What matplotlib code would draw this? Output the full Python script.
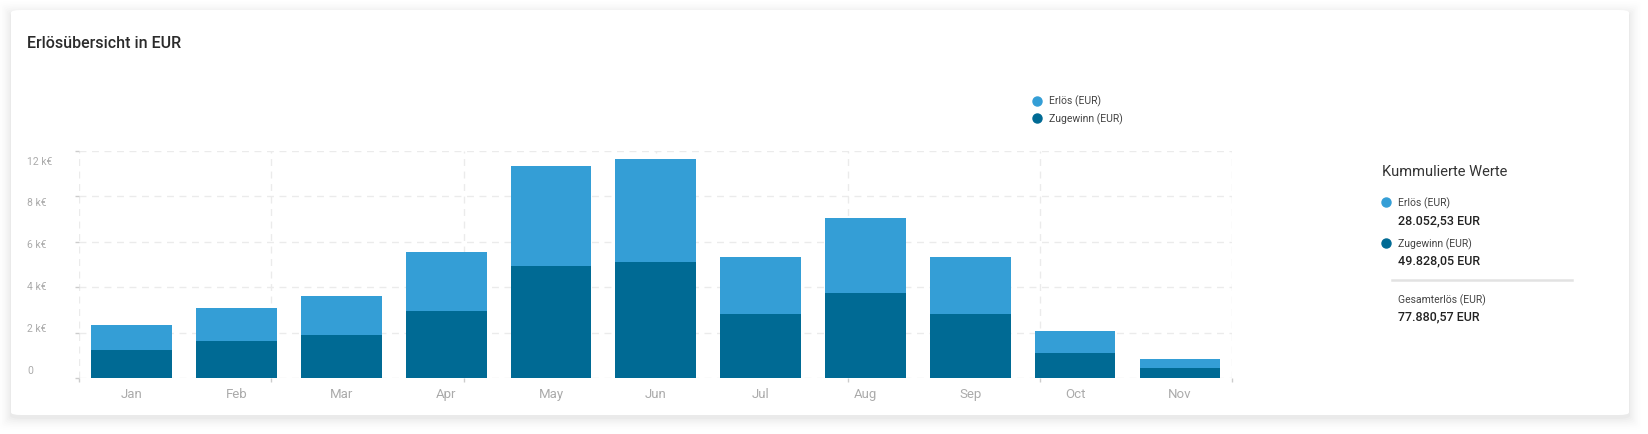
import matplotlib
matplotlib.use("Agg")
import matplotlib.pyplot as plt
from matplotlib.patches import FancyBboxPatch
import numpy as np

plt.rcParams['font.family'] = ['Roboto', 'DejaVu Sans']

# ---- data (k€) ----
months = ["Jan", "Feb", "Mar", "Apr", "May", "Jun", "Jul", "Aug", "Sep", "Oct", "Nov"]
zugewinn = [1.25, 1.64, 1.91, 2.94, 4.93, 5.09, 2.81, 3.73, 2.81, 1.10, 0.45]   # dark, bottom
erloes = [1.10, 1.45, 1.71, 2.62, 4.41, 4.54, 2.51, 3.33, 2.51, 0.98, 0.41]     # light, top
ytick_labels = ["0", "2 k€", "4 k€", "6 k€", "8 k€", "12 k€"]
legend_labels = ["Erlös (EUR)", "Zugewinn (EUR)"]
summary_labels = ["Erlös (EUR)", "Zugewinn (EUR)", "Gesamterlös (EUR)"]
summary_values = ["28.052,53 EUR", "49.828,05 EUR", "77.880,57 EUR"]
title = "Erlösübersicht in EUR"
panel_title = "Kummulierte Werte"

LIGHT = "#349ED6"
DARK = "#006A94"

W, H = 1648, 435
fig = plt.figure(figsize=(W / 100, H / 100), dpi=100)
fig.patch.set_facecolor("white")

def fx(x):
    return x / W

def fy(y):
    return 1 - y / H

# card shadow (soft, slightly offset downward) + card
for i, a in enumerate([0.020, 0.016, 0.013, 0.010, 0.008, 0.006, 0.004, 0.003]):
    g = 1 + i * 1.6
    dy = 3
    fig.patches.append(FancyBboxPatch((fx(11 - g), fy(416 + g + dy)), fx(1618 + 2 * g), (416 - 11 + 2 * g) / H,
                                      boxstyle="round,pad=0,rounding_size=0.008",
                                      transform=fig.transFigure, facecolor="black", edgecolor="none",
                                      alpha=a, zorder=0))
fig.patches.append(FancyBboxPatch((fx(11), fy(416)), fx(1618), (416 - 11) / H,
                                  boxstyle="round,pad=0,rounding_size=0.006",
                                  transform=fig.transFigure, facecolor="white", edgecolor="none", zorder=1))

# axes
left, right, top, bottom = 79.3, 1232.3, 151.7, 379.3
ax = fig.add_axes([fx(left), fy(bottom), fx(right - left), (bottom - top) / H])
ax.set_zorder(2)
ax.patch.set_alpha(0)
x = np.arange(len(months))
ax.bar(x, zugewinn, width=0.77, color=DARK, zorder=3)
ax.bar(x, erloes, width=0.77, bottom=zugewinn, color=LIGHT, zorder=3)
ax.set_xlim(-0.5, len(months) - 0.5)
ax.set_ylim(0, 10)

grid_c = "#ebebeb"
for yv in np.arange(0, 10.01, 2):
    ax.axhline(yv, color=grid_c, lw=1, ls=(0, (5, 4)), zorder=1)
for xv in np.linspace(-0.5, len(months) - 0.5, 7):
    ax.axvline(xv, color=grid_c, lw=1, ls=(0, (5, 4)), zorder=1)
for s in ax.spines.values():
    s.set_visible(False)

ax.set_xticks(x)
ax.set_xticklabels(months, fontsize=9.5, color="#ababab")
ax.tick_params(axis="x", which="major", length=0, pad=6)
ax.set_xticks(np.linspace(-0.5, len(months) - 0.5, 7), minor=True)
ax.tick_params(axis="x", which="minor", length=3, color="#cccccc", width=1)
ax.set_yticks(np.arange(0, 10.01, 2))
ax.set_yticklabels([])
ax.tick_params(axis="y", length=3, color="#cccccc", width=1)

# y tick labels (evenly spaced as in reference)
label_ys = np.linspace(370.7, 161.7, len(ytick_labels))
for lab, yy in zip(ytick_labels, label_ys):
    fig.text(fx(27.3), fy(yy), lab, ha="left", va="center", fontsize=7.5, color="#ababab", zorder=5)

# title
fig.text(fx(27.3), fy(43.3), title, ha="left", va="center", fontsize=11.5, fontweight="medium",
         color="#2b2b2b", zorder=5)

# top legend
for lab, col, yy in zip(legend_labels, [LIGHT, DARK], [101.7, 119.3]):
    fig.lines.append(plt.Line2D([fx(1036.7)], [fy(yy)], marker="o", ms=6.5, color=col,
                                transform=fig.transFigure, zorder=6))
    fig.text(fx(1049.3), fy(yy), lab, ha="left", va="center", fontsize=7.5, color="#444444", zorder=5)

# right panel
fig.text(fx(1381.7), fy(172.3), panel_title, ha="left", va="center", fontsize=10.5, color="#333333", zorder=5)
dot_cols = [LIGHT, DARK]
lab_ys = [203.3, 244.0, 300.0]
val_ys = [221.0, 260.7, 317.3]
for i, (lab, val) in enumerate(zip(summary_labels, summary_values)):
    if i < 2:
        fig.lines.append(plt.Line2D([fx(1385.7)], [fy(lab_ys[i])], marker="o", ms=6.5, color=dot_cols[i],
                                    transform=fig.transFigure, zorder=6))
    fig.text(fx(1397.7), fy(lab_ys[i]), lab, ha="left", va="center", fontsize=7.5, color="#444444", zorder=5)
    fig.text(fx(1397.7), fy(val_ys[i]), val, ha="left", va="center", fontsize=9, fontweight="medium",
             color="#222222", zorder=5)
fig.lines.append(plt.Line2D([fx(1391.7), fx(1571.7)], [fy(280.7), fy(280.7)], color="#e2e2e2", lw=1.8,
                            transform=fig.transFigure, zorder=5))

fig.savefig("out.png", dpi=100, facecolor="white")
